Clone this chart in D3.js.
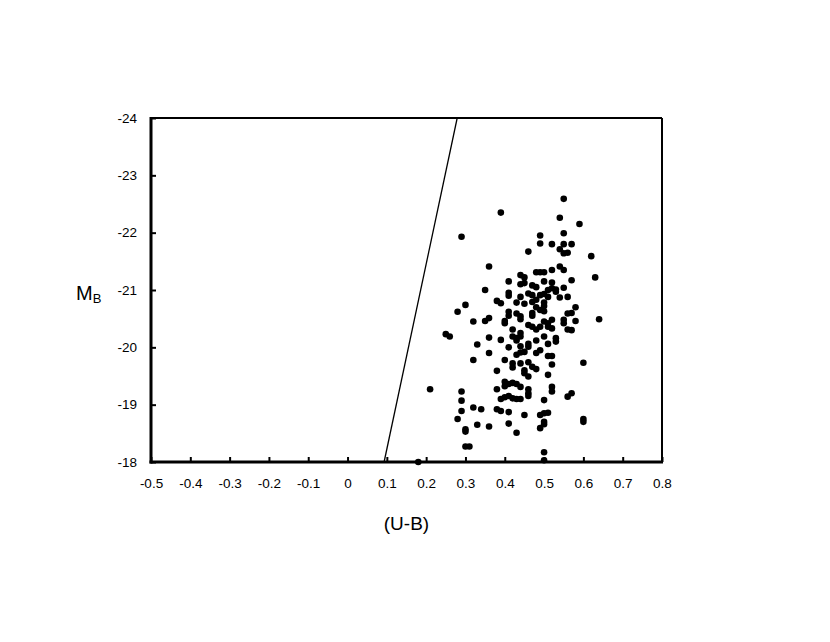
<!DOCTYPE html>
<html>
<head>
<meta charset="utf-8">
<script src="https://cdn.jsdelivr.net/npm/d3@7"></script>
<style>
body { margin: 0; background: #fff; }
svg text { font-family: Arial, "Liberation Sans", sans-serif; fill: #000; }
</style>
</head>
<body>
<div id="chart"></div>
<script>
// tick values
var xTicks = [-0.5, -0.4, -0.3, -0.2, -0.1, 0, 0.1, 0.2, 0.3, 0.4, 0.5, 0.6, 0.7, 0.8];
var yTicks = [-24, -23, -22, -21, -20, -19, -18];

// galaxies: colour (U-B) and absolute magnitude M_B
var ubColor = [
    0.55, 0.39, 0.54, 0.59, 0.29, 0.49, 0.55, 0.49, 0.52, 0.55, 0.57, 0.46, 0.54, 0.55, 0.56, 0.62,
    0.36, 0.48, 0.49, 0.50, 0.52, 0.54, 0.55, 0.44, 0.45, 0.63,
    0.57, 0.41, 0.44, 0.45, 0.47, 0.48, 0.50, 0.52, 0.51, 0.52, 0.53, 0.53, 0.55, 0.35, 0.41, 0.41,
    0.44, 0.46, 0.49, 0.50, 0.54, 0.56, 0.38, 0.39, 0.43, 0.45, 0.47, 0.48, 0.50, 0.50, 0.30, 0.28,
    0.41, 0.43, 0.41, 0.47, 0.47, 0.49, 0.50, 0.56, 0.57, 0.58, 0.36, 0.35, 0.32, 0.40, 0.40, 0.44,
    0.46, 0.47, 0.50, 0.51, 0.52, 0.55, 0.55, 0.58, 0.64, 0.48, 0.49, 0.51, 0.52, 0.56, 0.57, 0.42,
    0.25, 0.26,
    0.36, 0.39, 0.42, 0.43, 0.44, 0.44, 0.43, 0.50, 0.51, 0.48, 0.53, 0.53, 0.33, 0.41, 0.44, 0.46,
    0.46, 0.36, 0.43, 0.44, 0.45, 0.48, 0.49, 0.51, 0.52, 0.32, 0.40, 0.42, 0.42, 0.44, 0.46, 0.45,
    0.45, 0.46, 0.47, 0.48, 0.52, 0.60, 0.38, 0.51, 0.40, 0.41, 0.43, 0.44, 0.38, 0.46, 0.46, 0.52,
    0.52, 0.57, 0.56, 0.21, 0.29, 0.40, 0.42, 0.46,
    0.29, 0.29, 0.28, 0.30, 0.30, 0.30, 0.31, 0.32, 0.34, 0.33, 0.36, 0.38, 0.39, 0.41, 0.41, 0.43,
    0.45, 0.39, 0.40, 0.41, 0.42, 0.43, 0.44, 0.50, 0.49, 0.50, 0.51, 0.50, 0.50, 0.49, 0.60, 0.60,
    0.50, 0.18, 0.50,
    0.44, 0.48, 0.47, 0.51
];
var magB = [
    -22.59, -22.35, -22.26, -22.15, -21.93, -21.95, -21.99, -21.81, -21.80, -21.80, -21.80, -21.67, -21.71, -21.64, -21.65, -21.59,
    -21.41, -21.31, -21.31, -21.31, -21.35, -21.41, -21.35, -21.26, -21.22, -21.22,
    -21.17, -21.15, -21.10, -21.12, -21.08, -21.05, -21.15, -21.13, -21.00, -21.03, -21.01, -20.97, -21.04, -21.00, -20.95, -20.90,
    -20.88, -20.94, -20.91, -20.93, -20.87, -20.88, -20.81, -20.77, -20.78, -20.76, -20.79, -20.83, -20.78, -20.72, -20.74, -20.62,
    -20.62, -20.59, -20.55, -20.60, -20.55, -20.65, -20.63, -20.59, -20.60, -20.70, -20.51, -20.46, -20.45, -20.46, -20.42, -20.49,
    -20.39, -20.36, -20.45, -20.42, -20.48, -20.48, -20.42, -20.46, -20.49, -20.31, -20.36, -20.36, -20.33, -20.31, -20.30, -20.31,
    -20.23, -20.19,
    -20.17, -20.13, -20.19, -20.16, -20.25, -20.19, -20.12, -20.19, -20.06, -20.12, -20.16, -20.10, -20.05, -20.00, -20.02, -20.06,
    -20.01, -19.90, -19.87, -19.91, -19.92, -19.90, -19.95, -19.85, -19.85, -19.78, -19.78, -19.72, -19.65, -19.72, -19.74, -19.60,
    -19.55, -19.49, -19.66, -19.62, -19.70, -19.73, -19.59, -19.52, -19.40, -19.36, -19.36, -19.31, -19.27, -19.27, -19.20, -19.31,
    -19.23, -19.20, -19.14, -19.27, -19.23, -19.32, -19.38, -19.15,
    -19.07, -18.89, -18.75, -18.57, -18.53, -18.27, -18.27, -18.95, -18.92, -18.65, -18.62, -18.92, -18.89, -18.87, -18.67, -18.51,
    -18.82, -19.10, -19.13, -19.15, -19.11, -19.10, -19.10, -19.08, -18.82, -18.85, -18.86, -18.70, -18.66, -18.59, -18.75, -18.70,
    -18.17, -18.00, -18.03,
    -20.54, -20.70, -20.91, -20.88
];

// the dividing line
var lineUB = [0.093, 0.279];
var lineMB = [-18, -24];

var margin = {top: 118, left: 151};
var width = 511;
var height = 344;

var svg = d3.select("#chart").append("svg")
    .attr("width", 830)
    .attr("height", 642);

var g = svg.append("g")
    .attr("transform", "translate(" + margin.left + "," + margin.top + ")");

var x = d3.scaleLinear().domain([-0.5, 0.8]).range([0, width]);
var y = d3.scaleLinear().domain([-24, -18]).range([0, height]);

// x axis, ticks pointing inward
g.append("g")
    .attr("transform", "translate(0," + height + ")")
    .call(d3.axisBottom(x)
        .tickValues(xTicks)
        .tickSizeInner(-5)
        .tickSizeOuter(0)
        .tickPadding(16)
        .tickFormat(function(d) { return String(d); }));

// y axis, ticks pointing inward
g.append("g")
    .call(d3.axisLeft(y)
        .tickValues(yTicks)
        .tickSizeInner(-5)
        .tickSizeOuter(0)
        .tickPadding(14)
        .tickFormat(function(d) { return String(d); }));

g.selectAll(".domain").remove();
g.selectAll(".tick line").attr("stroke", "#000").attr("stroke-width", 2);
g.selectAll(".tick text").style("font-size", "13.5px");

// frame: heavier on the left and bottom
g.append("line").attr("x1", 0).attr("x2", width).attr("y1", 0).attr("y2", 0)
    .attr("stroke", "#000").attr("stroke-width", 2);
g.append("line").attr("x1", width).attr("x2", width).attr("y1", 0).attr("y2", height)
    .attr("stroke", "#000").attr("stroke-width", 2);
g.append("line").attr("x1", 0).attr("x2", 0).attr("y1", -1).attr("y2", height + 1.5)
    .attr("stroke", "#000").attr("stroke-width", 3);
g.append("line").attr("x1", -1.5).attr("x2", width + 1).attr("y1", height).attr("y2", height)
    .attr("stroke", "#000").attr("stroke-width", 3);

// sloped line
g.append("line")
    .attr("x1", x(lineUB[0])).attr("y1", y(lineMB[0]))
    .attr("x2", x(lineUB[1])).attr("y2", y(lineMB[1]))
    .attr("stroke", "#000")
    .attr("stroke-width", 1.3);

// the galaxies
var points = ubColor.map(function(d, i) { return {ub: d, mb: magB[i]}; });

g.selectAll(".dot")
    .data(points)
    .enter()
    .append("circle")
    .attr("class", "dot")
    .attr("cx", function(d) { return x(d.ub); })
    .attr("cy", function(d) { return y(d.mb); })
    .attr("r", 3.3)
    .attr("fill", "#000");

// axis titles
svg.append("text")
    .attr("x", margin.left + width / 2)
    .attr("y", 530)
    .attr("text-anchor", "middle")
    .style("font-size", "19px")
    .text("(U-B)");

var yTitle = svg.append("text")
    .attr("x", 76)
    .attr("y", 300)
    .style("font-size", "20px");
yTitle.append("tspan").text("M");
yTitle.append("tspan")
    .attr("dy", 3)
    .style("font-size", "13px")
    .text("B");
</script>
</body>
</html>
